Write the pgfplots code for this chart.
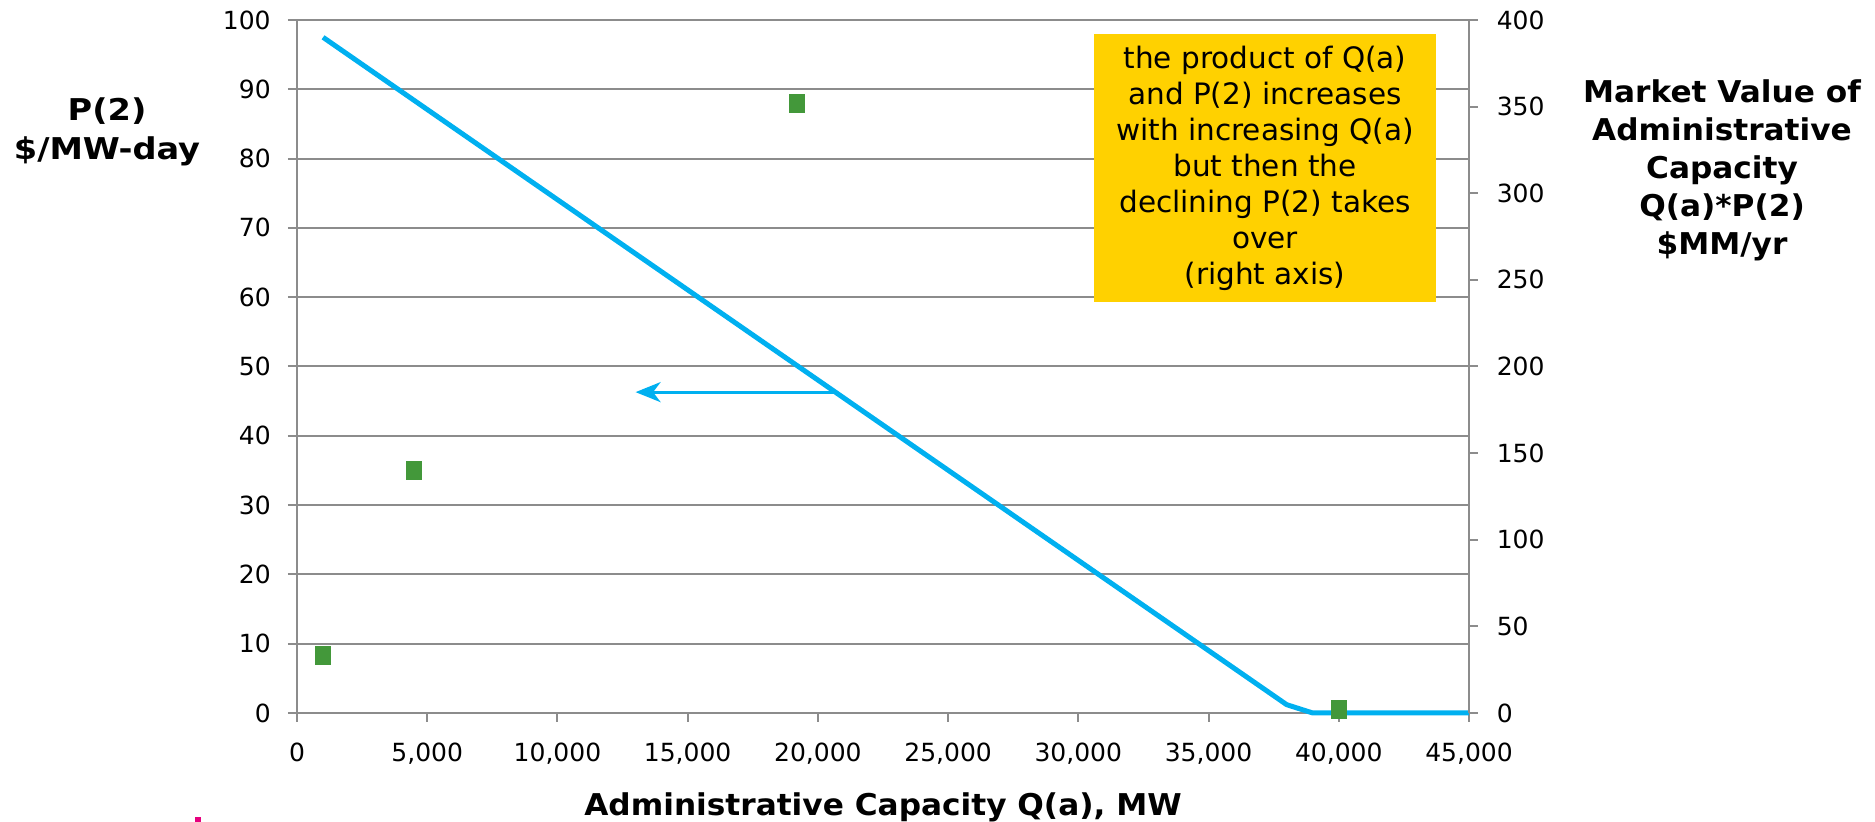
\documentclass[border=0pt]{standalone}
\usepackage{pgfplots}
\pgfplotsset{compat=1.18}
\usetikzlibrary{arrows.meta}
\usepackage{fontspec}
\setmainfont{DejaVu Sans}
\newfontfamily\widelabel[FakeStretch=1.12]{DejaVu Sans}
\newfontfamily\labelfont[FakeStretch=1.04]{DejaVu Sans}

\definecolor{lineblue}{HTML}{00B0F0}
\definecolor{sqgreen}{HTML}{43983A}
\definecolor{boxgold}{HTML}{FFD100}
\definecolor{gridgray}{HTML}{8C8C8C}
\definecolor{pinkmark}{HTML}{E6007E}

\pgfplotsset{
  basestyle/.style={
    at={(0,0)}, anchor=south west,
    scale only axis, width=468.8pt, height=277.2pt,
    xmin=0, xmax=45000,
    axis line style={gridgray, line width=0.8pt},
    tick style={gridgray, line width=0.8pt},
    tick align=outside, major tick length=3.6pt,
    ticklabel style={font=\fontsize{10}{12}\selectfont, text=black},
    /pgf/number format/assume math mode=true,
    /pgf/number format/1000 sep={,},
    scaled x ticks=false, scaled y ticks=false,
    clip=false,
  }
}

\begin{document}
\begin{tikzpicture}
% left axis: P(2)
\begin{axis}[basestyle,
    ymin=0, ymax=100,
    xtick={0,5000,...,45000}, ytick={0,10,...,100},
    axis x line*=bottom, axis y line*=left,
    xticklabel style={yshift=-4.8pt},
    yticklabel style={xshift=-3.4pt},
    ymajorgrids, major grid style={gridgray, line width=0.8pt},
]
\addplot[lineblue, line width=2pt, line join=round] coordinates {
  (1000,97.5) (38000,1.2) (39000,0) (45000,0)
};
\draw[lineblue, line width=1.2pt, -{Stealth[length=10pt, width=8pt, inset=3pt]}]
  (axis cs:20600,46.3) -- (axis cs:13000,46.3);
\end{axis}

% right axis: Q(a)*P(2)
\begin{axis}[basestyle,
    ymin=0, ymax=400,
    ytick={0,50,...,400},
    axis x line=none, axis y line*=right,
    yticklabel style={xshift=4pt},
]
\addplot[only marks, mark=square*, mark size=3pt,
  mark options={sqgreen, draw=none, yscale=1.2}] coordinates {
  (1000,33) (4500,140) (19200,352) (40000,2)
};
\end{axis}

% labels
\node[font=\widelabel\bfseries\fontsize{12}{15.6}\selectfont, align=center]
  at (-76pt,232.6pt) {P(2)\\\$/MW-day};
\node[font=\labelfont\bfseries\fontsize{12}{15.2}\selectfont, align=center]
  at (570pt,217.2pt) {Market Value of\\Administrative\\Capacity\\Q(a)*P(2)\\\$MM/yr};
\node[font=\labelfont\bfseries\fontsize{12}{14.4}\selectfont]
  at (234.4pt,-37.6pt) {Administrative Capacity Q(a), MW};

% note box
\node[fill=boxgold, minimum width=136.8pt, minimum height=107.2pt,
  inner sep=0pt, align=center, font=\fontsize{11.8}{14.4}\selectfont]
  at (387.2pt,218pt) {the product of Q(a)\\and P(2) increases\\with increasing Q(a)\\but then the\\declining P(2) takes\\over\\(right axis)};

\fill[pinkmark] (-40.8pt,-43.6pt) rectangle (-38.4pt,-41.8pt);

\pgfresetboundingbox
\useasboundingbox (-118.8pt,-43.6pt) rectangle (631.2pt,285.2pt);
\end{tikzpicture}
\end{document}
